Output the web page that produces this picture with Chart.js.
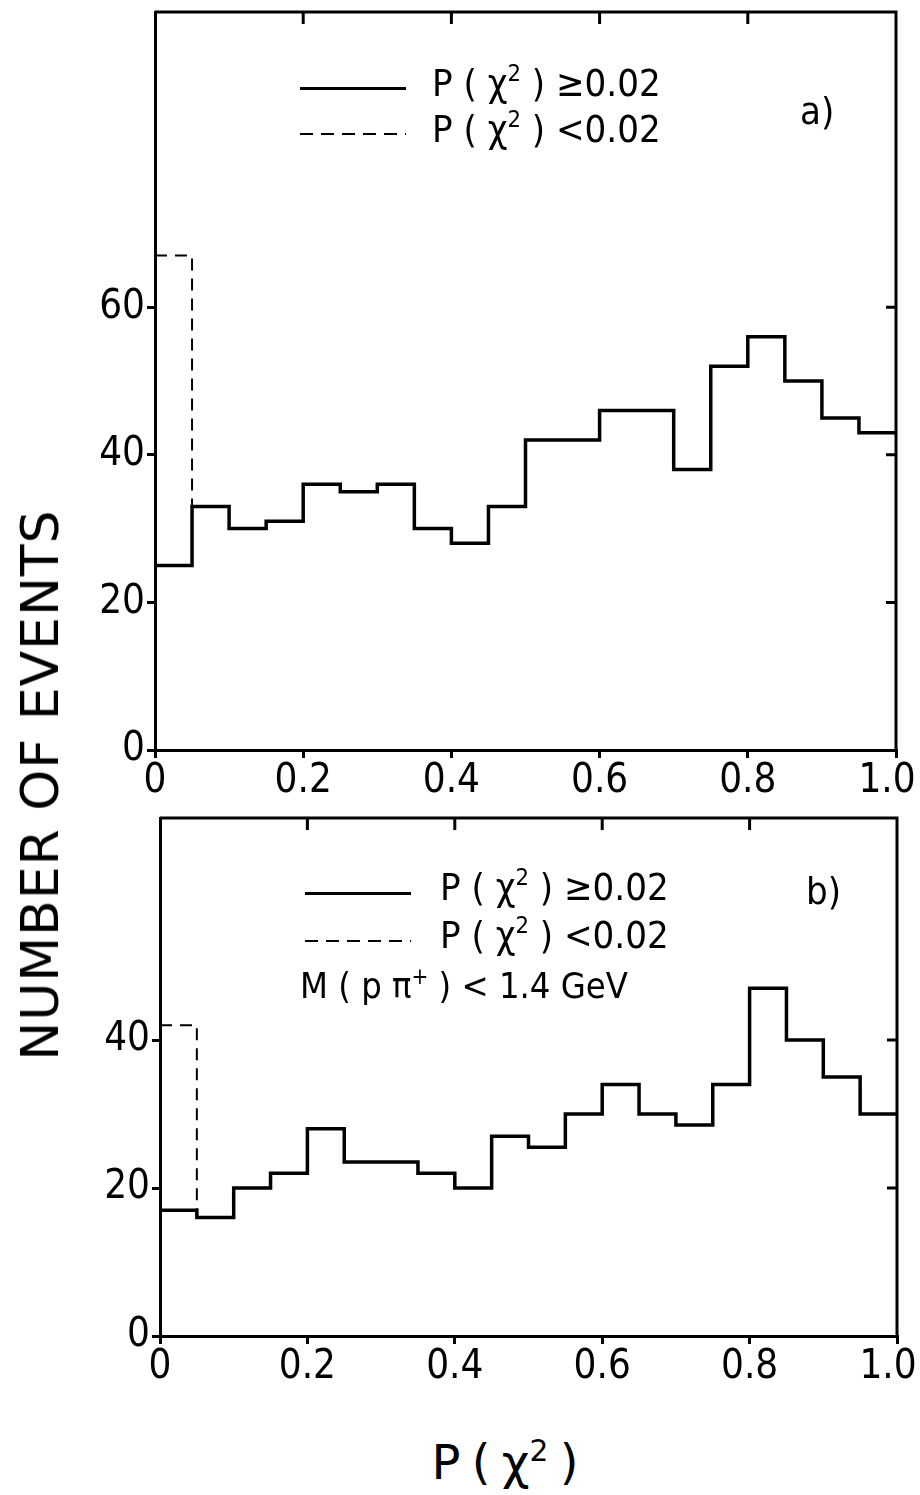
<!DOCTYPE html>
<html>
<head>
<meta charset="utf-8">
<script src="https://cdn.jsdelivr.net/npm/chart.js@4"></script>
<style>
  html, body { margin: 0; background: #fff; width: 920px; height: 1495px; position: relative; overflow: hidden; }
  canvas { position: absolute; left: 0; }
  .t { position: absolute; font-family: 'DejaVu Sans Condensed', 'Liberation Sans Narrow', sans-serif; color: #000; white-space: nowrap; line-height: 1; }
  .t sup { font-size: 0.62em; vertical-align: 0.62em; line-height: 0; }
  .solid { position: absolute; height: 3px; background: #000; }
  .dash { position: absolute; height: 2px; background: repeating-linear-gradient(90deg, #000 0 13px, transparent 13px 21px); }
</style>
</head>
<body>
<canvas id="graficoA" width="940" height="820" style="top:0"></canvas>
<canvas id="graficoB" width="940" height="600" style="top:800px"></canvas>

<!-- legenda painel a -->
<div class="solid" style="left:300px; top:87px; width:106px"></div>
<div class="t" style="left:432px; top:64px; font-size:38px">P ( χ<sup>2</sup> ) ≥0.02</div>
<div class="dash" style="left:300px; top:133px; width:106px"></div>
<div class="t" style="left:432px; top:110px; font-size:38px">P ( χ<sup>2</sup> ) &lt;0.02</div>
<div class="t" style="left:800px; top:92px; font-size:38px">a)</div>

<!-- legenda painel b -->
<div class="solid" style="left:305px; top:892px; width:106px"></div>
<div class="t" style="left:440px; top:868px; font-size:38px">P ( χ<sup>2</sup> ) ≥0.02</div>
<div class="dash" style="left:305px; top:940px; width:106px"></div>
<div class="t" style="left:440px; top:916px; font-size:38px">P ( χ<sup>2</sup> ) &lt;0.02</div>
<div class="t" style="left:806px; top:872px; font-size:38px">b)</div>
<div class="t" style="left:300px; top:968px; font-size:36px">M ( p π<sup>+</sup> ) &lt; 1.4 GeV</div>

<!-- titulos dos eixos -->
<div class="t" style="left:40px; top:785px; font-size:52px; font-family:'DejaVu Sans', sans-serif; transform: translate(-50%,-50%) rotate(-90deg); letter-spacing:1px">NUMBER OF EVENTS</div>
<div class="t" style="left:505px; top:1462px; font-size:48px; font-family:'DejaVu Sans', sans-serif; transform: translate(-50%,-50%); word-spacing:-4px">P ( χ<sup>2</sup> )</div>

<script>
// bordas dos bins (largura 0.05)
const bordasBins = [0, 0.05, 0.1, 0.15, 0.2, 0.25, 0.3, 0.35, 0.4, 0.45, 0.5, 0.55, 0.6, 0.65, 0.7, 0.75, 0.8, 0.85, 0.9, 0.95, 1.0];

// painel a) contagens P(chi2) >= 0.02
const contagensA = [25, 33, 30, 31, 36, 35, 36, 30, 28, 33, 42, 42, 46, 46, 38, 52, 56, 50, 45, 43];
// primeiro bin com P(chi2) < 0.02 (tracejado)
const tracejadoA = [67, 33];

// painel b) M(p pi+) < 1.4 GeV
const contagensB = [17, 16, 20, 22, 28, 23.5, 23.5, 22, 20, 27, 25.5, 30, 34, 30, 28.5, 34, 47, 40, 35, 30];
const tracejadoB = [42, 17];

const ticksX = [0, 0.2, 0.4, 0.6, 0.8, 1.0];
const ticksYA = [0, 20, 40, 60];
const ticksYB = [0, 20, 40];

const fonteTicks = { family: "'Liberation Sans Narrow', 'DejaVu Sans Condensed', sans-serif", size: 40 };

// monta pontos para a linha em degraus
function pontosHistograma(contagens) {
  const pts = contagens.map((c, i) => ({ x: bordasBins[i], y: c }));
  pts.push({ x: bordasBins[bordasBins.length - 1], y: contagens[contagens.length - 1] });
  return pts;
}

function pontosTracejado(vals) {
  return [{ x: bordasBins[0], y: vals[0] }, { x: bordasBins[1], y: vals[1] }];
}

// rotulo do eixo x ("1.0" puxado para dentro com um espaco)
function rotuloX(v) {
  if (v === 0) return '0';
  if (v === 1) return '1.0\u2002';
  return v.toFixed(1);
}

// moldura + ticks internos (topo e direita)
const moldura = {
  id: 'moldura',
  afterDraw(chart, args, opts) {
    const { ctx, chartArea: a, scales: { x, y } } = chart;
    ctx.save();
    ctx.strokeStyle = '#000';
    ctx.lineWidth = 3;
    ctx.beginPath();
    ctx.moveTo(a.left, a.top);
    ctx.lineTo(a.right, a.top);
    ctx.lineTo(a.right, a.bottom);
    opts.ticksTopo.forEach(v => {
      const px = x.getPixelForValue(v);
      ctx.moveTo(px, a.top);
      ctx.lineTo(px, a.top + 12);
    });
    opts.ticksDireita.forEach(v => {
      const py = y.getPixelForValue(v);
      ctx.moveTo(a.right, py);
      ctx.lineTo(a.right - 10, py);
    });
    ctx.stroke();
    ctx.restore();
  }
};

function criarGrafico(id, contagens, tracejado, yMax, ticksY, cfgLayout) {
  const ctx = document.getElementById(id).getContext('2d');
  return new Chart(ctx, {
    type: 'line',
    data: {
      datasets: [{
        data: pontosHistograma(contagens),
        stepped: 'before',
        borderColor: '#000',
        borderWidth: 3.5,
        pointRadius: 0,
        fill: false
      }, {
        data: pontosTracejado(tracejado),
        stepped: 'before',
        borderColor: '#000',
        borderWidth: 2,
        borderDash: [12, 8],
        pointRadius: 0,
        fill: false
      }]
    },
    options: {
      responsive: false,
      animation: false,
      events: [],
      layout: { padding: cfgLayout.padding },
      plugins: {
        legend: { display: false },
        tooltip: { enabled: false },
        moldura: { ticksTopo: [0.2, 0.4, 0.6, 0.8], ticksDireita: ticksY.filter(v => v > 0) }
      },
      scales: {
        x: {
          type: 'linear',
          min: 0,
          max: 1,
          afterBuildTicks: s => { s.ticks = ticksX.map(v => ({ value: v })); },
          afterFit: s => { s.height = cfgLayout.alturaX; },
          ticks: {
            color: '#000',
            font: fonteTicks,
            padding: 0,
            maxRotation: 0,
            callback: rotuloX
          },
          grid: { drawOnChartArea: false, color: '#000', lineWidth: 3, tickLength: 8 },
          border: { color: '#000', width: 3 }
        },
        y: {
          min: 0,
          max: yMax,
          afterBuildTicks: s => { s.ticks = ticksY.map(v => ({ value: v })); },
          afterFit: s => { s.width = cfgLayout.larguraY; },
          ticks: {
            color: '#000',
            font: Object.assign({}, fonteTicks, { lineHeight: 0.4 }),
            padding: 2
          },
          grid: { drawOnChartArea: false, color: '#000', lineWidth: 3, tickLength: 8 },
          border: { color: '#000', width: 3 }
        }
      }
    },
    plugins: [moldura]
  });
}

criarGrafico('graficoA', contagensA, tracejadoA, 100, ticksYA, {
  padding: { left: 0, right: 44, top: 12, bottom: 0 },
  alturaX: 70,
  larguraY: 155
});

criarGrafico('graficoB', contagensB, tracejadoB, 70, ticksYB, {
  padding: { left: 0, right: 43, top: 18, bottom: 0 },
  alturaX: 64,
  larguraY: 160
});
</script>
</body>
</html>
